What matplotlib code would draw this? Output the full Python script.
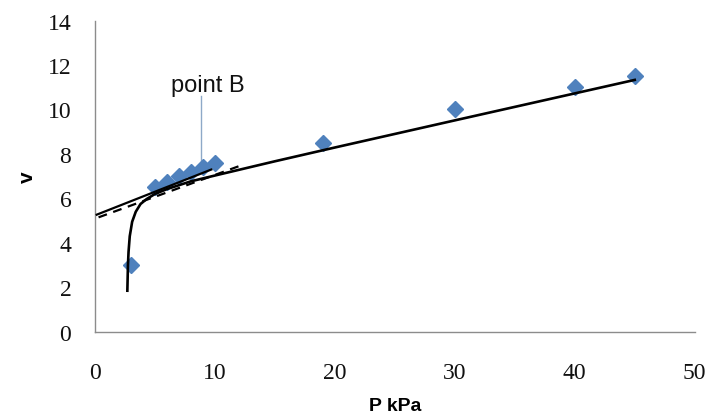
import matplotlib
matplotlib.use("Agg")
import matplotlib.pyplot as plt

# Measured data points (P kPa, v)
P = [3, 5, 6, 7, 8, 9, 10, 19, 30, 40, 45]
V = [3.0, 6.5, 6.75, 7.0, 7.2, 7.4, 7.6, 8.5, 10.0, 11.0, 11.5]

# Fitted curve
curve_P = [2.7, 2.75, 2.8, 2.9, 3.1, 3.4, 3.8, 4.3, 5, 6, 8, 10, 15, 20, 30, 45]
curve_V = [1.85, 3.0, 3.6, 4.3, 4.95, 5.4, 5.75, 5.97, 6.2, 6.42, 6.77, 7.03, 7.67, 8.29, 9.51, 11.33]

# Tangent lines (end points)
tangent_P = [0.15, 9.7]
tangent_V = [5.27, 7.30]
dashed_P = [0.3, 12.0]
dashed_V = [5.15, 7.45]

# Annotation leader for "point B"
pointB_P = [8.8, 8.8]
pointB_V = [7.55, 10.6]

x_ticks = [0, 10, 20, 30, 40, 50]
y_ticks = [0, 2, 4, 6, 8, 10, 12, 14]

fig = plt.figure(figsize=(7.14, 4.14), dpi=100)
ax = fig.add_axes([0.133, 0.196, 0.840, 0.752])

ax.plot(P, V, linestyle="none", marker="D", markersize=8,
        color="#4F81BD", zorder=2)
ax.plot(curve_P, curve_V, color="black", linewidth=1.9, zorder=3)
ax.plot(tangent_P, tangent_V, color="black", linewidth=1.6, zorder=3)
ax.plot(dashed_P, dashed_V, color="black", linewidth=1.6,
        linestyle=(0, (4, 3)), zorder=3)
ax.plot(pointB_P, pointB_V, color="#8EA9C8", linewidth=1.0, zorder=1)
ax.text(9.4, 10.62, "point B", ha="center", va="bottom",
        fontsize=17, family="Liberation Sans", color="#111111")

ax.set_xlim(0, 50)
ax.set_ylim(0, 14)
ax.set_xticks(x_ticks)
ax.set_yticks(y_ticks)
ax.tick_params(length=0, labelsize=17)
ax.tick_params(axis="x", pad=22)
ax.tick_params(axis="y", pad=17)
for lab in ax.get_xticklabels() + ax.get_yticklabels():
    lab.set_family("Liberation Serif")
    lab.set_color("#111111")

for s in ["top", "right"]:
    ax.spines[s].set_visible(False)
for s in ["left", "bottom"]:
    ax.spines[s].set_color("#8c8c8c")
    ax.spines[s].set_linewidth(1.0)

ax.set_xlabel("P kPa", fontsize=14, fontweight="bold",
              family="Liberation Sans", labelpad=10)
ax.set_ylabel("v", fontsize=15, fontweight="bold",
              family="Liberation Sans", labelpad=8)

fig.savefig("out.png", dpi=100)
